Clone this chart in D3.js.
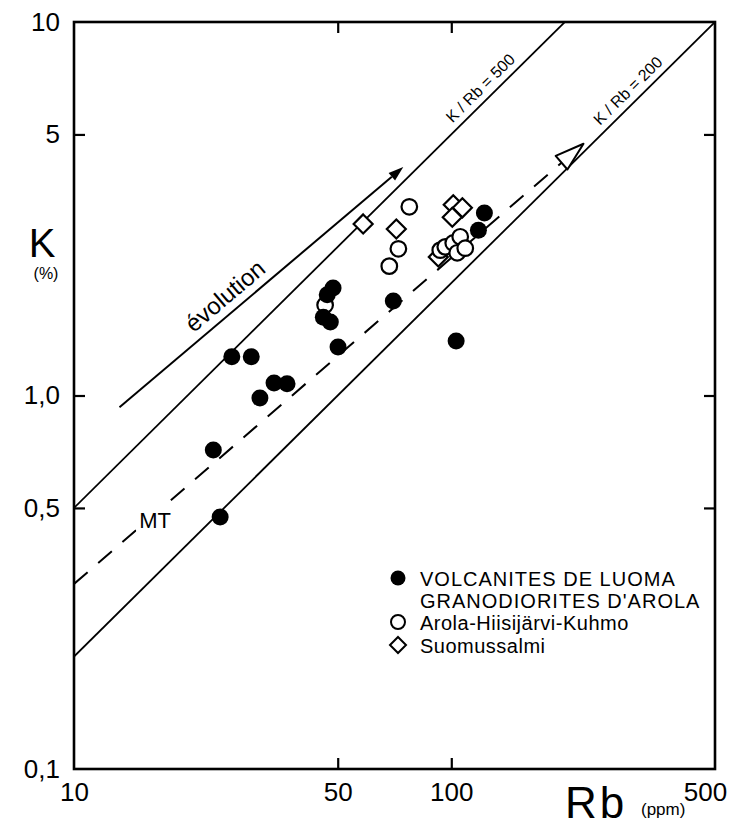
<!DOCTYPE html>
<html><head><meta charset="utf-8">
<script src="https://cdn.jsdelivr.net/npm/d3@7"></script>
<style>body{margin:0;background:#fff}svg{display:block}</style>
</head><body><svg id="c" width="740" height="835"></svg>
<script>
// ---- data ----
const xTickValues = [10, 50, 100, 500];
const xTickLabels = ["10", "50", "100", "500"];
const yTickValues = [0.1, 0.5, 1, 5, 10];
const yTickLabels = ["0,1", "0,5", "1,0", "5", "10"];
const xMinorTicks = [50, 100];
const yMinorTicks = [0.5, 1, 5];

// Volcanites de Luoma / Granodiorites d'Arola (filled circles)
const volcRb = [23.4, 24.4, 26.2, 29.5, 31.1, 33.9, 36.7, 48.6, 46.9, 45.8, 47.8, 50.1, 70.2, 103, 118, 122.4];
const volcK  = [0.715, 0.473, 1.27, 1.27, 0.985, 1.08, 1.075, 1.94, 1.86, 1.62, 1.574, 1.349, 1.79, 1.40, 2.77, 3.08];
// Arola-Hiisijärvi-Kuhmo (open circles)
const arolaRb = [46.3, 68.5, 72.4, 77.4, 93.5, 96.4, 101.2, 105.6, 103.7, 108.9];
const arolaK  = [1.747, 2.22, 2.47, 3.20, 2.45, 2.50, 2.56, 2.66, 2.41, 2.48];
// Suomussalmi (diamonds)
const suomRb = [58.4, 71.5, 92.4, 101.2, 107, 100.6];
const suomK  = [2.88, 2.79, 2.35, 3.24, 3.18, 3.0];

// K/Rb reference ratios
const ratios = [500, 200];
const ratioLabels = ["K / Rb = 500", "K / Rb = 200"];
const ratioLabelRb = [126, 310];
// MT trend (dashed) and evolution arrow
const mtRb = [10, 196];
const mtK  = [0.313, 4.2];
const evoRb = [13.2, 74.6];
const evoK  = [0.93, 4.09];

const legendLabels = [["VOLCANITES DE LUOMA", "GRANODIORITES D'AROLA"], ["Arola-Hiisijärvi-Kuhmo"], ["Suomussalmi"]];

// ---- chart ----
const svg = d3.select("#c");
const x = d3.scaleLog().domain([10, 500]).range([74, 715]);
const y = d3.scaleLog().domain([0.1, 10]).range([769, 22]);
const FONT = "Liberation Sans, Arial, sans-serif";

svg.append("defs").append("clipPath").attr("id", "clip")
  .append("rect").attr("x", x(10)).attr("y", y(10)).attr("width", x(500) - x(10)).attr("height", y(0.1) - y(10));

const plot = svg.append("g").attr("clip-path", "url(#clip)");

// ratio lines
ratios.forEach(r => {
  const f = rb => rb * r / 10000;
  plot.append("line")
    .attr("x1", x(10)).attr("y1", y(f(10)))
    .attr("x2", x(1000)).attr("y2", y(f(1000)))
    .attr("stroke", "#000").attr("stroke-width", 1.8);
});

// MT dashed line
plot.append("line")
  .attr("x1", x(mtRb[0])).attr("y1", y(mtK[0]))
  .attr("x2", x(mtRb[1])).attr("y2", y(mtK[1]))
  .attr("stroke", "#000").attr("stroke-width", 2)
  .attr("stroke-dasharray", "18,14");
{
  const bx = x(mtRb[1]), by = y(mtK[1]);
  const ang = Math.atan2(y(mtK[1]) - y(mtK[0]), x(mtRb[1]) - x(mtRb[0]));
  const L = 29, hw = 9;
  const tip = [bx + L * Math.cos(ang), by + L * Math.sin(ang)];
  const p1 = [bx + hw * Math.sin(ang), by - hw * Math.cos(ang)];
  const p2 = [bx - hw * Math.sin(ang), by + hw * Math.cos(ang)];
  plot.append("path").attr("d", d3.line()([tip, p1, p2]) + "Z")
    .attr("fill", "#fff").attr("stroke", "#000").attr("stroke-width", 2).attr("stroke-linejoin", "round");
}

// evolution arrow
{
  const x1 = x(evoRb[0]), y1 = y(evoK[0]), x2 = x(evoRb[1]), y2 = y(evoK[1]);
  const ang = Math.atan2(y2 - y1, x2 - x1);
  const L = 15, hw = 5;
  const bx = x2 - L * Math.cos(ang), by = y2 - L * Math.sin(ang);
  plot.append("line").attr("x1", x1).attr("y1", y1).attr("x2", bx).attr("y2", by)
    .attr("stroke", "#000").attr("stroke-width", 2);
  plot.append("path").attr("d", d3.line()([[x2, y2], [bx + hw * Math.sin(ang), by - hw * Math.cos(ang)], [bx - hw * Math.sin(ang), by + hw * Math.cos(ang)]]) + "Z")
    .attr("fill", "#000");
  const t = 0.41;
  const off = 17;
  const mx = x1 + t * (x2 - x1) + off * Math.sin(ang);
  const my = y1 + t * (y2 - y1) - off * Math.cos(ang);
  svg.append("text").attr("transform", `translate(${mx},${my}) rotate(${ang * 180 / Math.PI})`)
    .attr("text-anchor", "middle").attr("dominant-baseline", "central")
    .attr("font-family", FONT).attr("font-size", 24).text("évolution");
}

// ratio labels
const lineAng = Math.atan2(y(10) - y(1), x(100) - x(10)) * 180 / Math.PI;
ratios.forEach((r, i) => {
  const rb = ratioLabelRb[i];
  const px = x(rb), py = y(rb * r / 10000);
  svg.append("text").attr("transform", `translate(${px},${py}) rotate(${lineAng})`)
    .attr("text-anchor", "middle").attr("dy", -7)
    .attr("font-family", FONT).attr("font-size", 16).text(ratioLabels[i]);
});

// MT label (interrupts the dashed line)
{
  const mt = svg.append("text").attr("x", x(16.4)).attr("y", y(0.442)).attr("text-anchor", "middle")
    .attr("font-family", FONT).attr("font-size", 22).text("MT");
  const bb = mt.node().getBBox();
  svg.insert("rect", () => mt.node())
    .attr("x", bb.x - 3).attr("y", bb.y - 2).attr("width", bb.width + 6).attr("height", bb.height + 4)
    .attr("fill", "#fff");
}

// points
const diamond = (cx, cy, s) => `M${cx},${cy - s}L${cx + s},${cy}L${cx},${cy + s}L${cx - s},${cy}Z`;
svg.append("g").selectAll("path").data(suomRb.map((d, i) => [d, suomK[i]])).join("path")
  .attr("d", d => diamond(x(d[0]), y(d[1]), 9.5))
  .attr("fill", "#fff").attr("stroke", "#000").attr("stroke-width", 2.2);
svg.append("g").selectAll("circle").data(arolaRb.map((d, i) => [d, arolaK[i]])).join("circle")
  .attr("cx", d => x(d[0])).attr("cy", d => y(d[1])).attr("r", 7.8)
  .attr("fill", "#fff").attr("stroke", "#000").attr("stroke-width", 2.2);
svg.append("g").selectAll("circle").data(volcRb.map((d, i) => [d, volcK[i]])).join("circle")
  .attr("cx", d => x(d[0])).attr("cy", d => y(d[1])).attr("r", 8.5)
  .attr("fill", "#000");

// frame
svg.append("rect").attr("x", x(10)).attr("y", y(10)).attr("width", x(500) - x(10)).attr("height", y(0.1) - y(10))
  .attr("fill", "none").attr("stroke", "#000").attr("stroke-width", 2.6);

// tick marks (inward)
const tickG = svg.append("g");
tickG.append("g").attr("transform", `translate(0,${y(0.1)})`)
  .call(d3.axisBottom(x).tickValues(xMinorTicks).tickSizeInner(-11).tickSizeOuter(0).tickFormat(""));
tickG.append("g").attr("transform", `translate(0,${y(10)})`)
  .call(d3.axisTop(x).tickValues(xMinorTicks).tickSizeInner(-11).tickSizeOuter(0).tickFormat(""));
tickG.append("g").attr("transform", `translate(${x(10)},0)`)
  .call(d3.axisLeft(y).tickValues(yMinorTicks).tickSizeInner(-11).tickSizeOuter(0).tickFormat(""));
tickG.append("g").attr("transform", `translate(${x(500)},0)`)
  .call(d3.axisRight(y).tickValues(yMinorTicks).tickSizeInner(-11).tickSizeOuter(0).tickFormat(""));
tickG.selectAll(".domain").remove();
tickG.selectAll(".tick line").attr("stroke-width", 2.2);

// tick labels
const xl = svg.append("g").attr("transform", `translate(0,${y(0.1)})`)
  .call(d3.axisBottom(x).tickValues(xTickValues).tickSize(0).tickPadding(14)
    .tickFormat((d, i) => xTickLabels[i]));
const yl = svg.append("g").attr("transform", `translate(${x(10)},0)`)
  .call(d3.axisLeft(y).tickValues(yTickValues).tickSize(0).tickPadding(14)
    .tickFormat((d, i) => yTickLabels[i]));
[xl, yl].forEach(g => {
  g.select(".domain").remove();
  g.selectAll("text").attr("font-family", FONT).attr("font-size", 26).attr("fill", "#000");
});
xl.selectAll(".tick").filter(d => d === 500).select("text").attr("dx", -10);

// axis titles
svg.append("text").attr("x", 42).attr("y", 257).attr("text-anchor", "middle")
  .attr("font-family", FONT).attr("font-size", 40).text("K");
svg.append("text").attr("x", 46).attr("y", 279).attr("text-anchor", "middle")
  .attr("font-family", FONT).attr("font-size", 16).text("(%)");
svg.append("text").attr("x", 565).attr("y", 818).attr("letter-spacing", 3)
  .attr("font-family", FONT).attr("font-size", 44).text("Rb");
svg.append("text").attr("x", 641).attr("y", 815)
  .attr("font-family", FONT).attr("font-size", 17).text("(ppm)");

// legend
const lg = svg.append("g").attr("font-family", FONT).attr("font-size", 20);
const lx = 398, ly = [578, 622, 645];
lg.append("circle").attr("cx", lx).attr("cy", ly[0]).attr("r", 7.5).attr("fill", "#000");
lg.append("circle").attr("cx", lx).attr("cy", ly[1]).attr("r", 7).attr("fill", "#fff").attr("stroke", "#000").attr("stroke-width", 2);
lg.append("path").attr("d", diamond(lx, ly[2], 8)).attr("fill", "#fff").attr("stroke", "#000").attr("stroke-width", 2);
legendLabels.forEach((lines, i) => {
  lines.forEach((t, j) => {
    lg.append("text").attr("x", 420).attr("y", ly[i] + 8 + j * 22)
      .attr("letter-spacing", i === 0 ? 1 : 0.5).text(t);
  });
});
</script></body></html>
